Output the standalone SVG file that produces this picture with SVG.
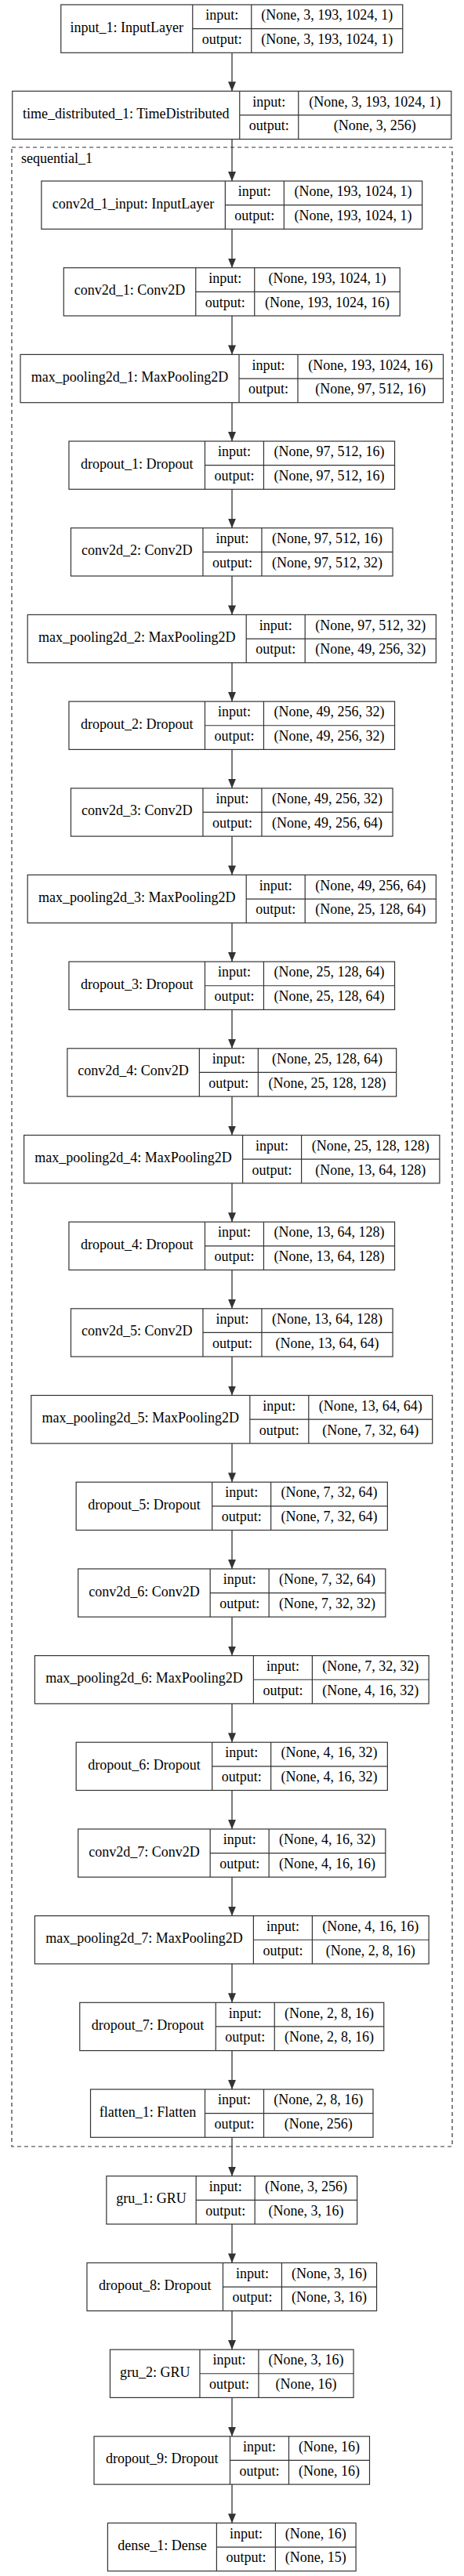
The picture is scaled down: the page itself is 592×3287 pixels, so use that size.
<svg xmlns="http://www.w3.org/2000/svg" width="592" height="3287" viewBox="0 0 592 3287">
<style>
.nd rect{fill:#fff;stroke:#333;stroke-width:1.2}
.nd path{fill:none;stroke:#333;stroke-width:1.2}
text{font-family:"Liberation Serif","Times New Roman",serif;font-size:18px;text-anchor:middle;fill:#000}
.cl{fill:none;stroke:#333;stroke-width:1.2;stroke-dasharray:5,4}
.ed line{stroke:#333;stroke-width:1.3;marker-end:url(#ah)}
</style>
<defs>
<marker id="ah" viewBox="0 0 12 10" refX="12" refY="5" markerWidth="12" markerHeight="10.6" markerUnits="userSpaceOnUse" orient="auto"><path d="M0,0 L12,5 L0,10 z" fill="#333"/></marker>
</defs>
<rect width="592" height="3287" fill="#fff"/>
<g id="sequential_1"><rect class="cl" x="15" y="188" width="562" height="2551"/><text x="27" y="208" style="text-anchor:start">sequential_1</text></g>
<g id="edges" class="ed">
<line x1="296" y1="67.3" x2="296" y2="116.3"/>
<line x1="296" y1="177.6" x2="296" y2="231"/>
<line x1="296" y1="292.3" x2="296" y2="341.7"/>
<line x1="296" y1="403" x2="296" y2="452.4"/>
<line x1="296" y1="513.7" x2="296" y2="563"/>
<line x1="296" y1="624.3" x2="296" y2="673.7"/>
<line x1="296" y1="735" x2="296" y2="784.4"/>
<line x1="296" y1="845.7" x2="296" y2="895.1"/>
<line x1="296" y1="956.4" x2="296" y2="1005.8"/>
<line x1="296" y1="1067.1" x2="296" y2="1116.4"/>
<line x1="296" y1="1177.7" x2="296" y2="1227.1"/>
<line x1="296" y1="1288.4" x2="296" y2="1337.8"/>
<line x1="296" y1="1399.1" x2="296" y2="1448.5"/>
<line x1="296" y1="1509.8" x2="296" y2="1559.2"/>
<line x1="296" y1="1620.5" x2="296" y2="1669.8"/>
<line x1="296" y1="1731.1" x2="296" y2="1780.5"/>
<line x1="296" y1="1841.8" x2="296" y2="1891.2"/>
<line x1="296" y1="1952.5" x2="296" y2="2001.9"/>
<line x1="296" y1="2063.2" x2="296" y2="2112.6"/>
<line x1="296" y1="2173.9" x2="296" y2="2223.2"/>
<line x1="296" y1="2284.5" x2="296" y2="2333.9"/>
<line x1="296" y1="2395.2" x2="296" y2="2444.6"/>
<line x1="296" y1="2505.9" x2="296" y2="2555.3"/>
<line x1="296" y1="2616.6" x2="296" y2="2666"/>
<line x1="296" y1="2727.3" x2="296" y2="2776.7"/>
<line x1="296" y1="2838" x2="296" y2="2887.4"/>
<line x1="296" y1="2948.7" x2="296" y2="2998.1"/>
<line x1="296" y1="3059.4" x2="296" y2="3108.8"/>
<line x1="296" y1="3170.1" x2="296" y2="3219.4"/>
</g>
<g id="input_1" class="nd" transform="translate(77.75,6)"><rect width="436" height="61.3"/><path d="M168,0V61.3M243,0V61.3M168,30.65H436"/><text x="84" y="34.7">input_1: InputLayer</text><text x="205.5" y="19.3">input:</text><text x="205.5" y="50">output:</text><text x="339.5" y="19.3">(None, 3, 193, 1024, 1)</text><text x="339.5" y="50">(None, 3, 193, 1024, 1)</text></g>
<g id="time_distributed_1" class="nd" transform="translate(15.75,116.3)"><rect width="560" height="61.3"/><path d="M290,0V61.3M365,0V61.3M290,30.65H560"/><text x="145" y="34.7">time_distributed_1: TimeDistributed</text><text x="327.5" y="19.3">input:</text><text x="327.5" y="50">output:</text><text x="462.5" y="19.3">(None, 3, 193, 1024, 1)</text><text x="462.5" y="50">(None, 3, 256)</text></g>
<g id="conv2d_1_input" class="nd" transform="translate(52.85,231)"><rect width="485.8" height="61.3"/><path d="M234.5,0V61.3M309.5,0V61.3M234.5,30.65H485.8"/><text x="117.25" y="34.7">conv2d_1_input: InputLayer</text><text x="272" y="19.3">input:</text><text x="272" y="50">output:</text><text x="397.65" y="19.3">(None, 193, 1024, 1)</text><text x="397.65" y="50">(None, 193, 1024, 1)</text></g>
<g id="conv2d_1" class="nd" transform="translate(81.25,341.7)"><rect width="429" height="61.3"/><path d="M168.5,0V61.3M243.5,0V61.3M168.5,30.65H429"/><text x="84.25" y="34.7">conv2d_1: Conv2D</text><text x="206" y="19.3">input:</text><text x="206" y="50">output:</text><text x="336.25" y="19.3">(None, 193, 1024, 1)</text><text x="336.25" y="50">(None, 193, 1024, 16)</text></g>
<g id="max_pooling2d_1" class="nd" transform="translate(26,452.4)"><rect width="539.5" height="61.3"/><path d="M279,0V61.3M354,0V61.3M279,30.65H539.5"/><text x="139.5" y="34.7">max_pooling2d_1: MaxPooling2D</text><text x="316.5" y="19.3">input:</text><text x="316.5" y="50">output:</text><text x="446.75" y="19.3">(None, 193, 1024, 16)</text><text x="446.75" y="50">(None, 97, 512, 16)</text></g>
<g id="dropout_1" class="nd" transform="translate(87.95,563)"><rect width="415.6" height="61.3"/><path d="M173.5,0V61.3M248.5,0V61.3M173.5,30.65H415.6"/><text x="86.75" y="34.7">dropout_1: Dropout</text><text x="211" y="19.3">input:</text><text x="211" y="50">output:</text><text x="332.05" y="19.3">(None, 97, 512, 16)</text><text x="332.05" y="50">(None, 97, 512, 16)</text></g>
<g id="conv2d_2" class="nd" transform="translate(90.45,673.7)"><rect width="410.6" height="61.3"/><path d="M168.5,0V61.3M243.5,0V61.3M168.5,30.65H410.6"/><text x="84.25" y="34.7">conv2d_2: Conv2D</text><text x="206" y="19.3">input:</text><text x="206" y="50">output:</text><text x="327.05" y="19.3">(None, 97, 512, 16)</text><text x="327.05" y="50">(None, 97, 512, 32)</text></g>
<g id="max_pooling2d_2" class="nd" transform="translate(35.2,784.4)"><rect width="521.1" height="61.3"/><path d="M279,0V61.3M354,0V61.3M279,30.65H521.1"/><text x="139.5" y="34.7">max_pooling2d_2: MaxPooling2D</text><text x="316.5" y="19.3">input:</text><text x="316.5" y="50">output:</text><text x="437.55" y="19.3">(None, 97, 512, 32)</text><text x="437.55" y="50">(None, 49, 256, 32)</text></g>
<g id="dropout_2" class="nd" transform="translate(87.95,895.1)"><rect width="415.6" height="61.3"/><path d="M173.5,0V61.3M248.5,0V61.3M173.5,30.65H415.6"/><text x="86.75" y="34.7">dropout_2: Dropout</text><text x="211" y="19.3">input:</text><text x="211" y="50">output:</text><text x="332.05" y="19.3">(None, 49, 256, 32)</text><text x="332.05" y="50">(None, 49, 256, 32)</text></g>
<g id="conv2d_3" class="nd" transform="translate(90.45,1005.8)"><rect width="410.6" height="61.3"/><path d="M168.5,0V61.3M243.5,0V61.3M168.5,30.65H410.6"/><text x="84.25" y="34.7">conv2d_3: Conv2D</text><text x="206" y="19.3">input:</text><text x="206" y="50">output:</text><text x="327.05" y="19.3">(None, 49, 256, 32)</text><text x="327.05" y="50">(None, 49, 256, 64)</text></g>
<g id="max_pooling2d_3" class="nd" transform="translate(35.2,1116.4)"><rect width="521.1" height="61.3"/><path d="M279,0V61.3M354,0V61.3M279,30.65H521.1"/><text x="139.5" y="34.7">max_pooling2d_3: MaxPooling2D</text><text x="316.5" y="19.3">input:</text><text x="316.5" y="50">output:</text><text x="437.55" y="19.3">(None, 49, 256, 64)</text><text x="437.55" y="50">(None, 25, 128, 64)</text></g>
<g id="dropout_3" class="nd" transform="translate(87.95,1227.1)"><rect width="415.6" height="61.3"/><path d="M173.5,0V61.3M248.5,0V61.3M173.5,30.65H415.6"/><text x="86.75" y="34.7">dropout_3: Dropout</text><text x="211" y="19.3">input:</text><text x="211" y="50">output:</text><text x="332.05" y="19.3">(None, 25, 128, 64)</text><text x="332.05" y="50">(None, 25, 128, 64)</text></g>
<g id="conv2d_4" class="nd" transform="translate(85.85,1337.8)"><rect width="419.8" height="61.3"/><path d="M168.5,0V61.3M243.5,0V61.3M168.5,30.65H419.8"/><text x="84.25" y="34.7">conv2d_4: Conv2D</text><text x="206" y="19.3">input:</text><text x="206" y="50">output:</text><text x="331.65" y="19.3">(None, 25, 128, 64)</text><text x="331.65" y="50">(None, 25, 128, 128)</text></g>
<g id="max_pooling2d_4" class="nd" transform="translate(30.6,1448.5)"><rect width="530.3" height="61.3"/><path d="M279,0V61.3M354,0V61.3M279,30.65H530.3"/><text x="139.5" y="34.7">max_pooling2d_4: MaxPooling2D</text><text x="316.5" y="19.3">input:</text><text x="316.5" y="50">output:</text><text x="442.15" y="19.3">(None, 25, 128, 128)</text><text x="442.15" y="50">(None, 13, 64, 128)</text></g>
<g id="dropout_4" class="nd" transform="translate(87.95,1559.2)"><rect width="415.6" height="61.3"/><path d="M173.5,0V61.3M248.5,0V61.3M173.5,30.65H415.6"/><text x="86.75" y="34.7">dropout_4: Dropout</text><text x="211" y="19.3">input:</text><text x="211" y="50">output:</text><text x="332.05" y="19.3">(None, 13, 64, 128)</text><text x="332.05" y="50">(None, 13, 64, 128)</text></g>
<g id="conv2d_5" class="nd" transform="translate(90.45,1669.8)"><rect width="410.6" height="61.3"/><path d="M168.5,0V61.3M243.5,0V61.3M168.5,30.65H410.6"/><text x="84.25" y="34.7">conv2d_5: Conv2D</text><text x="206" y="19.3">input:</text><text x="206" y="50">output:</text><text x="327.05" y="19.3">(None, 13, 64, 128)</text><text x="327.05" y="50">(None, 13, 64, 64)</text></g>
<g id="max_pooling2d_5" class="nd" transform="translate(39.8,1780.5)"><rect width="511.9" height="61.3"/><path d="M279,0V61.3M354,0V61.3M279,30.65H511.9"/><text x="139.5" y="34.7">max_pooling2d_5: MaxPooling2D</text><text x="316.5" y="19.3">input:</text><text x="316.5" y="50">output:</text><text x="432.95" y="19.3">(None, 13, 64, 64)</text><text x="432.95" y="50">(None, 7, 32, 64)</text></g>
<g id="dropout_5" class="nd" transform="translate(97.15,1891.2)"><rect width="397.2" height="61.3"/><path d="M173.5,0V61.3M248.5,0V61.3M173.5,30.65H397.2"/><text x="86.75" y="34.7">dropout_5: Dropout</text><text x="211" y="19.3">input:</text><text x="211" y="50">output:</text><text x="322.85" y="19.3">(None, 7, 32, 64)</text><text x="322.85" y="50">(None, 7, 32, 64)</text></g>
<g id="conv2d_6" class="nd" transform="translate(99.65,2001.9)"><rect width="392.2" height="61.3"/><path d="M168.5,0V61.3M243.5,0V61.3M168.5,30.65H392.2"/><text x="84.25" y="34.7">conv2d_6: Conv2D</text><text x="206" y="19.3">input:</text><text x="206" y="50">output:</text><text x="317.85" y="19.3">(None, 7, 32, 64)</text><text x="317.85" y="50">(None, 7, 32, 32)</text></g>
<g id="max_pooling2d_6" class="nd" transform="translate(44.4,2112.6)"><rect width="502.7" height="61.3"/><path d="M279,0V61.3M354,0V61.3M279,30.65H502.7"/><text x="139.5" y="34.7">max_pooling2d_6: MaxPooling2D</text><text x="316.5" y="19.3">input:</text><text x="316.5" y="50">output:</text><text x="428.35" y="19.3">(None, 7, 32, 32)</text><text x="428.35" y="50">(None, 4, 16, 32)</text></g>
<g id="dropout_6" class="nd" transform="translate(97.15,2223.2)"><rect width="397.2" height="61.3"/><path d="M173.5,0V61.3M248.5,0V61.3M173.5,30.65H397.2"/><text x="86.75" y="34.7">dropout_6: Dropout</text><text x="211" y="19.3">input:</text><text x="211" y="50">output:</text><text x="322.85" y="19.3">(None, 4, 16, 32)</text><text x="322.85" y="50">(None, 4, 16, 32)</text></g>
<g id="conv2d_7" class="nd" transform="translate(99.65,2333.9)"><rect width="392.2" height="61.3"/><path d="M168.5,0V61.3M243.5,0V61.3M168.5,30.65H392.2"/><text x="84.25" y="34.7">conv2d_7: Conv2D</text><text x="206" y="19.3">input:</text><text x="206" y="50">output:</text><text x="317.85" y="19.3">(None, 4, 16, 32)</text><text x="317.85" y="50">(None, 4, 16, 16)</text></g>
<g id="max_pooling2d_7" class="nd" transform="translate(44.4,2444.6)"><rect width="502.7" height="61.3"/><path d="M279,0V61.3M354,0V61.3M279,30.65H502.7"/><text x="139.5" y="34.7">max_pooling2d_7: MaxPooling2D</text><text x="316.5" y="19.3">input:</text><text x="316.5" y="50">output:</text><text x="428.35" y="19.3">(None, 4, 16, 16)</text><text x="428.35" y="50">(None, 2, 8, 16)</text></g>
<g id="dropout_7" class="nd" transform="translate(101.75,2555.3)"><rect width="388" height="61.3"/><path d="M173.5,0V61.3M248.5,0V61.3M173.5,30.65H388"/><text x="86.75" y="34.7">dropout_7: Dropout</text><text x="211" y="19.3">input:</text><text x="211" y="50">output:</text><text x="318.25" y="19.3">(None, 2, 8, 16)</text><text x="318.25" y="50">(None, 2, 8, 16)</text></g>
<g id="flatten_1" class="nd" transform="translate(115.5,2666)"><rect width="360.5" height="61.3"/><path d="M146,0V61.3M221,0V61.3M146,30.65H360.5"/><text x="73" y="34.7">flatten_1: Flatten</text><text x="183.5" y="19.3">input:</text><text x="183.5" y="50">output:</text><text x="290.75" y="19.3">(None, 2, 8, 16)</text><text x="290.75" y="50">(None, 256)</text></g>
<g id="gru_1" class="nd" transform="translate(135.85,2776.7)"><rect width="319.8" height="61.3"/><path d="M114.3,0V61.3M189.3,0V61.3M114.3,30.65H319.8"/><text x="57.15" y="34.7">gru_1: GRU</text><text x="151.8" y="19.3">input:</text><text x="151.8" y="50">output:</text><text x="254.55" y="19.3">(None, 3, 256)</text><text x="254.55" y="50">(None, 3, 16)</text></g>
<g id="dropout_8" class="nd" transform="translate(110.95,2887.4)"><rect width="369.6" height="61.3"/><path d="M173.5,0V61.3M248.5,0V61.3M173.5,30.65H369.6"/><text x="86.75" y="34.7">dropout_8: Dropout</text><text x="211" y="19.3">input:</text><text x="211" y="50">output:</text><text x="309.05" y="19.3">(None, 3, 16)</text><text x="309.05" y="50">(None, 3, 16)</text></g>
<g id="gru_2" class="nd" transform="translate(140.45,2998.1)"><rect width="310.6" height="61.3"/><path d="M114.5,0V61.3M189.5,0V61.3M114.5,30.65H310.6"/><text x="57.25" y="34.7">gru_2: GRU</text><text x="152" y="19.3">input:</text><text x="152" y="50">output:</text><text x="250.05" y="19.3">(None, 3, 16)</text><text x="250.05" y="50">(None, 16)</text></g>
<g id="dropout_9" class="nd" transform="translate(120,3108.8)"><rect width="351.5" height="61.3"/><path d="M173.5,0V61.3M248.5,0V61.3M173.5,30.65H351.5"/><text x="86.75" y="34.7">dropout_9: Dropout</text><text x="211" y="19.3">input:</text><text x="211" y="50">output:</text><text x="300" y="19.3">(None, 16)</text><text x="300" y="50">(None, 16)</text></g>
<g id="dense_1" class="nd" transform="translate(137.4,3219.4)"><rect width="316.7" height="61.3"/><path d="M139,0V61.3M214,0V61.3M139,30.65H316.7"/><text x="69.5" y="34.7">dense_1: Dense</text><text x="176.5" y="19.3">input:</text><text x="176.5" y="50">output:</text><text x="265.35" y="19.3">(None, 16)</text><text x="265.35" y="50">(None, 15)</text></g>
</svg>
